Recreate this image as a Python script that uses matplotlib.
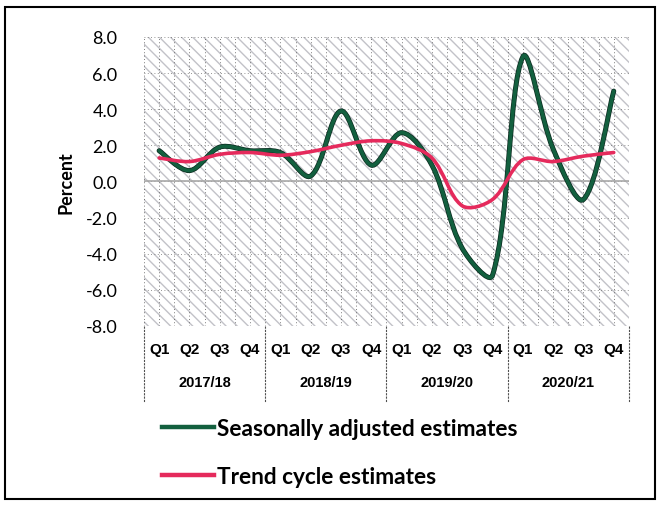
import numpy as np
import matplotlib.pyplot as plt
from matplotlib.path import Path
from matplotlib.patches import PathPatch, Rectangle
from matplotlib.lines import Line2D

years = ["2017/18", "2018/19", "2019/20", "2020/21"]
quarters = ["Q1", "Q2", "Q3", "Q4"]
seasonal = [1.7, 0.6, 1.9, 1.7, 1.6, 0.3, 3.9, 0.9,
            2.7, 0.9, -3.7, -5.2, 6.9, 1.8, -1.0, 5.0]
trend = [1.3, 1.1, 1.5, 1.6, 1.45, 1.65, 2.0, 2.25,
         2.1, 1.3, -1.35, -1.0, 1.2, 1.1, 1.4, 1.6]
yticks = [-8, -6, -4, -2, 0, 2, 4, 6, 8]

GREEN = "#13603f"
PINK = "#e52a5c"

def smooth_path(ax, x, y):
    # Excel-like smoothed line: cubic bezier through every point,
    # tangents weighted by chord lengths in screen space
    x = np.asarray(x, float); y = np.asarray(y, float)
    pts = ax.transData.transform(np.column_stack([x, y]))
    n = len(x)
    d = np.hypot(*np.diff(pts, axis=0).T)
    tang = np.zeros_like(pts)
    for i in range(n):
        a = pts[max(i - 1, 0)]; b = pts[min(i + 1, n - 1)]
        tang[i] = b - a
    verts = [pts[0]]
    codes = [Path.MOVETO]
    for i in range(n - 1):
        dl = d[i - 1] if i > 0 else d[i]
        dr = d[i + 1] if i + 1 < n - 1 else d[i]
        c1 = pts[i] + tang[i] * d[i] / (dl + d[i]) / 3
        c2 = pts[i + 1] - tang[i + 1] * d[i] / (d[i] + dr) / 3
        verts += [c1, c2, pts[i + 1]]
        codes += [Path.CURVE4] * 3
    verts = ax.transData.inverted().transform(np.array(verts))
    return Path(verts, codes)

plt.rcParams['hatch.linewidth'] = 1.0

fig = plt.figure(figsize=(6.62, 5.06), dpi=100)
ax = fig.add_axes([0.2175, 0.354, 0.7325, 0.571])
n = len(seasonal)
xs = np.arange(n)
ax.set_xlim(-0.5, n - 0.5)
ax.set_ylim(-8, 8)

ax.add_patch(Rectangle((-0.5, -8), n, 16, facecolor='white', edgecolor='#c2c2c8',
                       lw=0, hatch='\\\\\\', zorder=0))
for v in np.arange(-0.5, n, 0.5):
    ax.axvline(v, color='#505050', lw=0.6, ls=(0, (1, 3)), zorder=1)
for v in yticks:
    ax.axhline(v, color='#707070', lw=0.6, ls=(0, (1, 3)), zorder=1)
ax.axhline(0, color='#a8a8a8', lw=1.2, zorder=1)

for vals, col in [(seasonal, GREEN), (trend, PINK)]:
    p = smooth_path(ax, xs, vals)
    if col == GREEN:
        ax.add_patch(PathPatch(p, facecolor='none', edgecolor='#0d2a20', lw=3.6,
                               capstyle='round', zorder=3))
    ax.add_patch(PathPatch(p, facecolor='none', edgecolor=col, lw=2.6,
                           capstyle='round', zorder=3))

ax.set_yticks(yticks)
ax.set_yticklabels([f"{v:.1f}" for v in yticks], fontsize=13, family='Lato')
ax.set_xticks([])
ax.tick_params(axis='y', length=0, pad=19)
for s in ax.spines.values():
    s.set_visible(False)
ax.set_ylabel("Percent", fontsize=13, fontweight='bold', family='Lato', labelpad=8)

# category axis below plot
for i in range(n):
    ax.text(i, -9.3, quarters[i % 4], ha='center', va='center', fontsize=11,
            fontweight='bold', family='Liberation Sans')
for g, yr in enumerate(years):
    ax.text(g * 4 + 1.5, -11.1, yr, ha='center', va='center', fontsize=10.5,
            fontweight='bold', family='Liberation Sans')
for g in range(len(years) + 1):
    ax.plot([g * 4 - 0.5] * 2, [-8, -12.2], color='#505050', lw=0.8,
            ls=(0, (2, 1)), clip_on=False)

handles = [Line2D([], [], color=GREEN, lw=3.2),
           Line2D([], [], color=PINK, lw=3.2)]
fig.legend(handles, ["Seasonally adjusted estimates", "Trend cycle estimates"],
           loc='upper left', bbox_to_anchor=(0.245, 0.172), frameon=False,
           prop={'family': 'Lato', 'weight': 'bold', 'size': 16.3},
           handlelength=2.3, handletextpad=0.1, labelspacing=1.2,
           borderaxespad=0, borderpad=0)

fig.add_artist(Rectangle((0.008, 0.012), 0.982, 0.972, transform=fig.transFigure,
                         facecolor='none', edgecolor='black', lw=1.5))

fig.savefig("out.png", dpi=100)
